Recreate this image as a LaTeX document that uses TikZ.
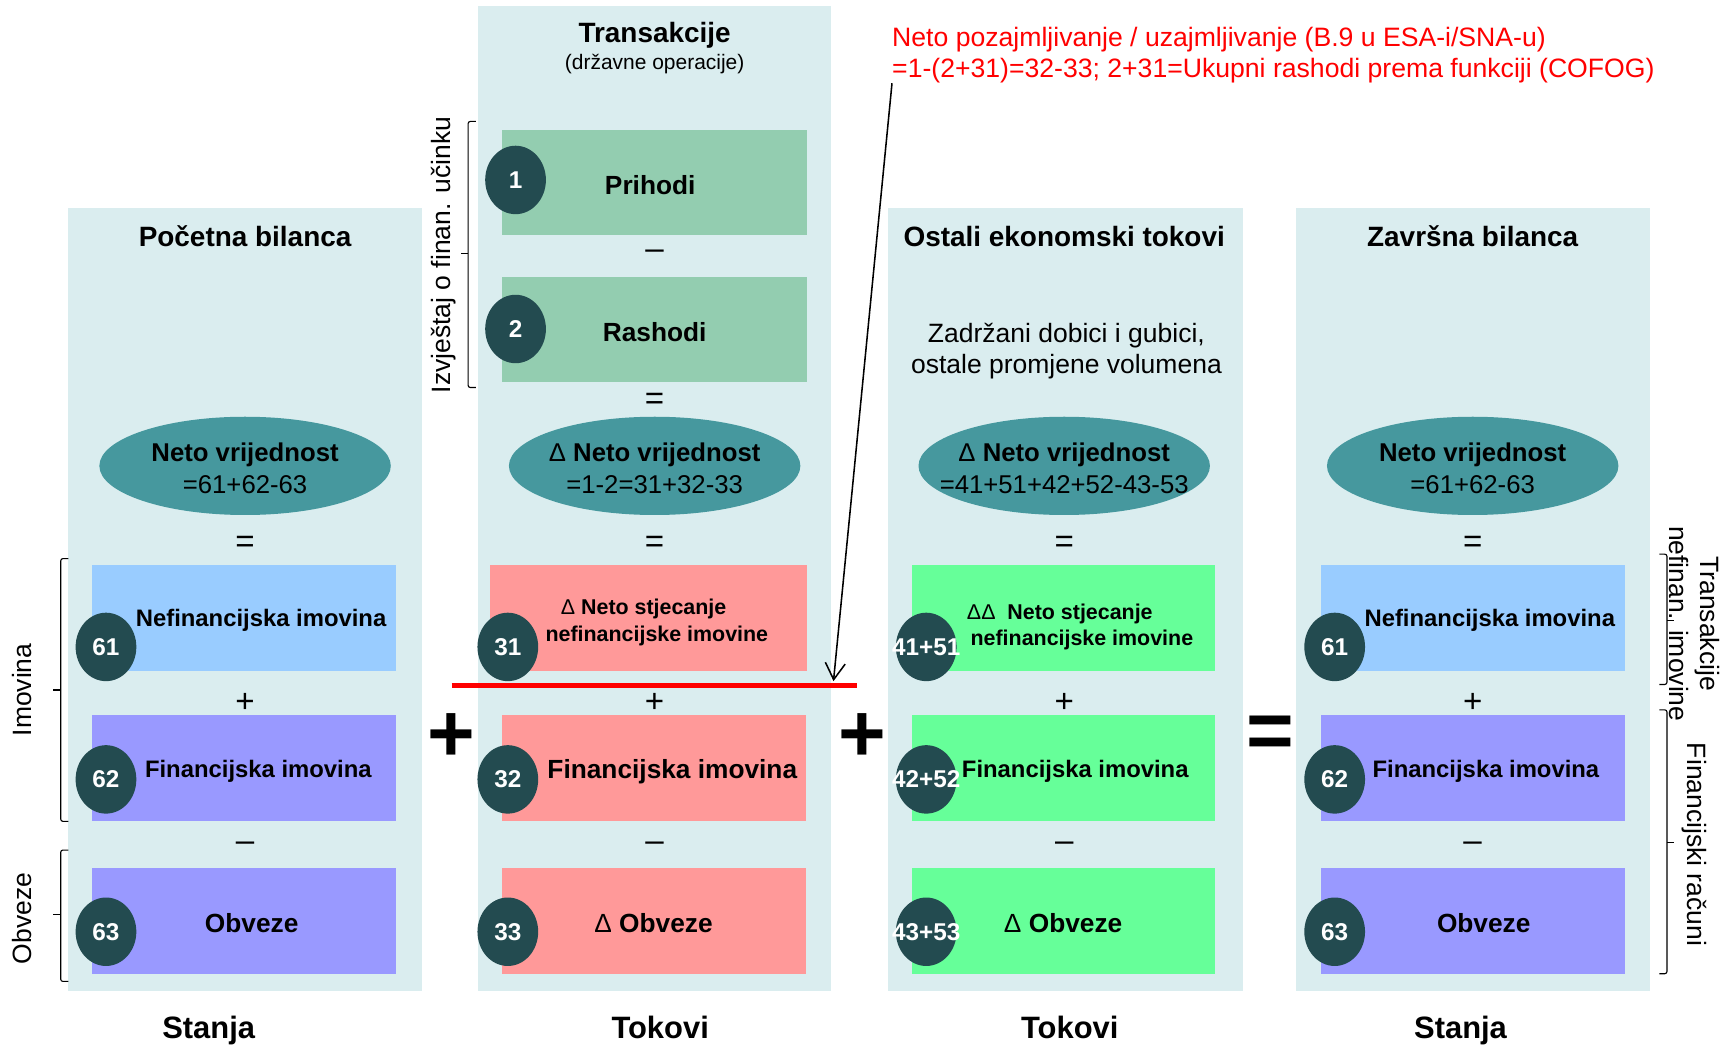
\documentclass[tikz,border=0pt]{standalone}
\usepackage{fontspec}
\setmainfont{Liberation Sans}
\usetikzlibrary{shapes.geometric,arrows.meta}
\definecolor{panelc}{HTML}{DAEDEF}
\definecolor{ellc}{HTML}{46989E}
\definecolor{circc}{HTML}{234B50}
\definecolor{topgreen}{HTML}{93CDB0}
\definecolor{bluec}{HTML}{99CCFF}
\definecolor{purplec}{HTML}{9999FF}
\definecolor{salmonc}{HTML}{FF9999}
\definecolor{greenc}{HTML}{66FF99}
\begin{document}
\begin{tikzpicture}[x=1pt,y=-1pt,
  box/.style={draw=none, inner sep=0, minimum height=96, minimum width=275},
  circ/.style={ellipse, fill=circc, inner sep=0, minimum width=55, minimum height=62},
  num/.style={text=white, inner sep=0, font=\bfseries\fontsize{22}{24}\selectfont},
  ell/.style={ellipse, fill=ellc, inner sep=0, minimum width=264, minimum height=89},
  elltxt/.style={inner sep=0, yshift=-2pt, align=center, font=\fontsize{23.3}{29}\selectfont},
  lbl/.style={inner sep=0, yshift=-2pt, font=\bfseries\fontsize{21.6}{26}\selectfont},
  lblbig/.style={inner sep=0, yshift=-2pt, font=\bfseries\fontsize{23.8}{26}\selectfont},
  lblsm/.style={inner sep=0, yshift=-2pt, font=\bfseries\fontsize{19.4}{24}\selectfont},
  op/.style={inner sep=0, yshift=-2pt, font=\fontsize{30}{30}\selectfont},
  bigop/.style={inner sep=0, font=\bfseries\fontsize{74}{74}\selectfont},
  head/.style={inner sep=0, yshift=-2pt, font=\bfseries\fontsize{25.3}{28}\selectfont},
  foot/.style={inner sep=0, anchor=base, font=\bfseries\fontsize{28}{30}\selectfont},
  side/.style={inner sep=0, align=center, font=\fontsize{24}{28}\selectfont},
  brk/.style={line width=1pt, rounded corners=2pt},
]
\useasboundingbox (0,0) rectangle (1568,947);

% panels
\fill[panelc] (62,188) rectangle (382,898);
\fill[panelc] (433,5) rectangle (753,898);
\fill[panelc] (804,188) rectangle (1126,898);
\fill[panelc] (1174,188) rectangle (1495,898);

% headers
\node[head] (h1) at (222,212) {Početna bilanca};
\node[head] (h2) at (593,30) {Transakcije};
\node[inner sep=0, yshift=-2pt, font=\fontsize{19}{22}\selectfont] (h2b) at (593,56) {(državne operacije)};
\node[head] (h3) at (964,212) {Ostali ekonomski tokovi};
\node[head] (h4) at (1334,212) {Završna bilanca};

% column 2 top boxes
\node[box, fill=topgreen, minimum width=276, minimum height=95] (bp) at (593,165.5) {};
\node[lblbig] (tp) at (589,166) {Prihodi};
\node[box, fill=topgreen, minimum width=276, minimum height=95] (br) at (593,298.5) {};
\node[lblbig] (tr) at (593,299) {Rashodi};
\node[circ] (c1) at (467,163) {};
\node[num] at (c1) {1};
\node[circ] (c2) at (467,298) {};
\node[num] at (c2) {2};
\node[op] (m0) at (593,229) {–};
\node[op] (e0) at (593,362) {=};

% col3 text
\node[side, yshift=-2pt] (zd) at (966,316) {Zadržani dobici i gubici,\\ ostale promjene volumena};

% ellipses
\node[ell] (n1) at (222,422) {};
\node[elltxt] at (n1) {\textbf{Neto vrijednost}\\=61+62-63};
\node[ell] (n2) at (593,422) {};
\node[elltxt] at (n2) {\textbf{{\mdseries Δ} Neto vrijednost}\\=1-2=31+32-33};
\node[ell] (n3) at (964,422) {};
\node[elltxt] at (n3) {\textbf{{\mdseries Δ} Neto vrijednost}\\=41+51+42+52-43-53};
\node[ell] (n4) at (1334,422) {};
\node[elltxt] at (n4) {\textbf{Neto vrijednost}\\=61+62-63};

% small operators
\foreach \x/\n in {222/a,593/b,964/c,1334/d}{
  \node[op] (eq\n) at (\x,491) {=};
  \node[op] (pl\n) at (\x,635) {+};
  \node[op] (mi\n) at (\x,765) {–};
}

% column 1 boxes
\node[box, fill=bluec, minimum width=276] (b61) at (221,560) {};
\node[box, fill=purplec, minimum width=276] (b62) at (221,696) {};
\node[box, fill=purplec, minimum width=276] (b63) at (221,834) {};
\node[lbl] at (236.5,560) {Nefinancijska imovina};
\node[lbl] at (234,697) {Financijska imovina};
\node[lblbig] at (228,834) {Obveze};

% column 2 boxes
\node[box, fill=salmonc, minimum width=287] (b31) at (587.5,560) {};
\node[box, fill=salmonc] (b32) at (592.5,696) {};
\node[box, fill=salmonc] (b33) at (592.5,834) {};
\node[lblsm] at (583,550) {{\mdseries Δ} Neto stjecanje};
\node[lblsm] at (595,574) {nefinancijske imovine};
\node[lblbig] at (609,697) {Financijska imovina};
\node[lblbig] at (592,834) {{\mdseries Δ} Obveze};

% column 3 boxes
\node[box, fill=greenc] (b41) at (963.5,560) {};
\node[box, fill=greenc] (b42) at (963.5,696) {};
\node[box, fill=greenc] (b43) at (963.5,834) {};
\node[lblsm] at (960,554) {{\mdseries ΔΔ}\ \ Neto stjecanje};
\node[lblsm] at (980,578) {nefinancijske imovine};
\node[lbl] at (974,697) {Financijska imovina};
\node[lblbig] at (963,834) {{\mdseries Δ} Obveze};

% column 4 boxes
\node[box, fill=bluec] (d61) at (1334.5,560) {};
\node[box, fill=purplec] (d62) at (1334.5,696) {};
\node[box, fill=purplec] (d63) at (1334.5,834) {};
\node[lbl] at (1349.5,560) {Nefinancijska imovina};
\node[lbl] at (1346,697) {Financijska imovina};
\node[lblbig] at (1344,834) {Obveze};

% number circles
\foreach \x/\a/\b/\c/\n in {96/61/62/63/p,460/31/32/33/q,839/41+51/42+52/43+53/r,1209/61/62/63/s}{
  \node[circ] (k1\n) at (\x,586) {};
  \node[num] at (k1\n) {\a};
  \node[circ] (k2\n) at (\x,706) {};
  \node[num] at (k2\n) {\b};
  \node[circ] (k3\n) at (\x,844) {};
  \node[num] at (k3\n) {\c};
}

% big operators
\node[bigop] (bp1) at (409,668) {+};
\node[bigop] (bp2) at (781,668) {+};
\node[bigop] (beq) at (1151,668) {=};

% red line and note
\draw[red, line width=5] (409,621) -- (776,621);
\node[inner sep=0, anchor=west, align=left, text=red, font=\fontsize{24.1}{28}\selectfont] (note) at (808,50)
  {Neto pozajmljivanje / uzajmljivanje (B.9 u ESA-i/SNA-u)\\=1-(2+31)=32-33; 2+31=Ukupni rashodi prema funkciji (COFOG)};
\coordinate (arrE) at (755,617);
\draw[line width=1.4, -{Straight Barb[length=15,width=18]}] (note.south west) -- (arrE);

% brackets left
\draw[brk] (431,110) -- (424,110) -- (424,351) -- (431,351);
\draw[line width=1pt] (424,230) -- (418,230);
\node[side, rotate=90] (izv) at (402,231) {Izvještaj o finan. učinku};

\draw[brk] (62,506) -- (55,506) -- (55,744) -- (62,744);
\draw[line width=1pt] (55,625) -- (48,625);
\node[side, rotate=90] (imo) at (20,625) {Imovina};

\draw[brk] (62,770) -- (55,770) -- (55,889) -- (62,889);
\draw[line width=1pt] (55,828) -- (48,828);
\node[side, rotate=90] (obv) at (20,832) {Obveze};

% brackets right
\draw[brk] (1503,502) -- (1510,502) -- (1510,620) -- (1503,620);
\draw[line width=1pt] (1510,562) -- (1516,562);
\node[side, rotate=-90] (tni) at (1535,565) {Transakcije\\nefinan. imovine};

\draw[brk] (1503,643) -- (1510,643) -- (1510,882) -- (1503,882);
\draw[line width=1pt] (1510,763) -- (1516,763);
\node[side, rotate=-90] (fr) at (1535,765) {Financijski računi};

% footers
\node[foot] (f1) at (189,941) {Stanja};
\node[foot] (f2) at (598,941) {Tokovi};
\node[foot] (f3) at (969,941) {Tokovi};
\node[foot] (f4) at (1323,941) {Stanja};
\end{tikzpicture}
\end{document}
